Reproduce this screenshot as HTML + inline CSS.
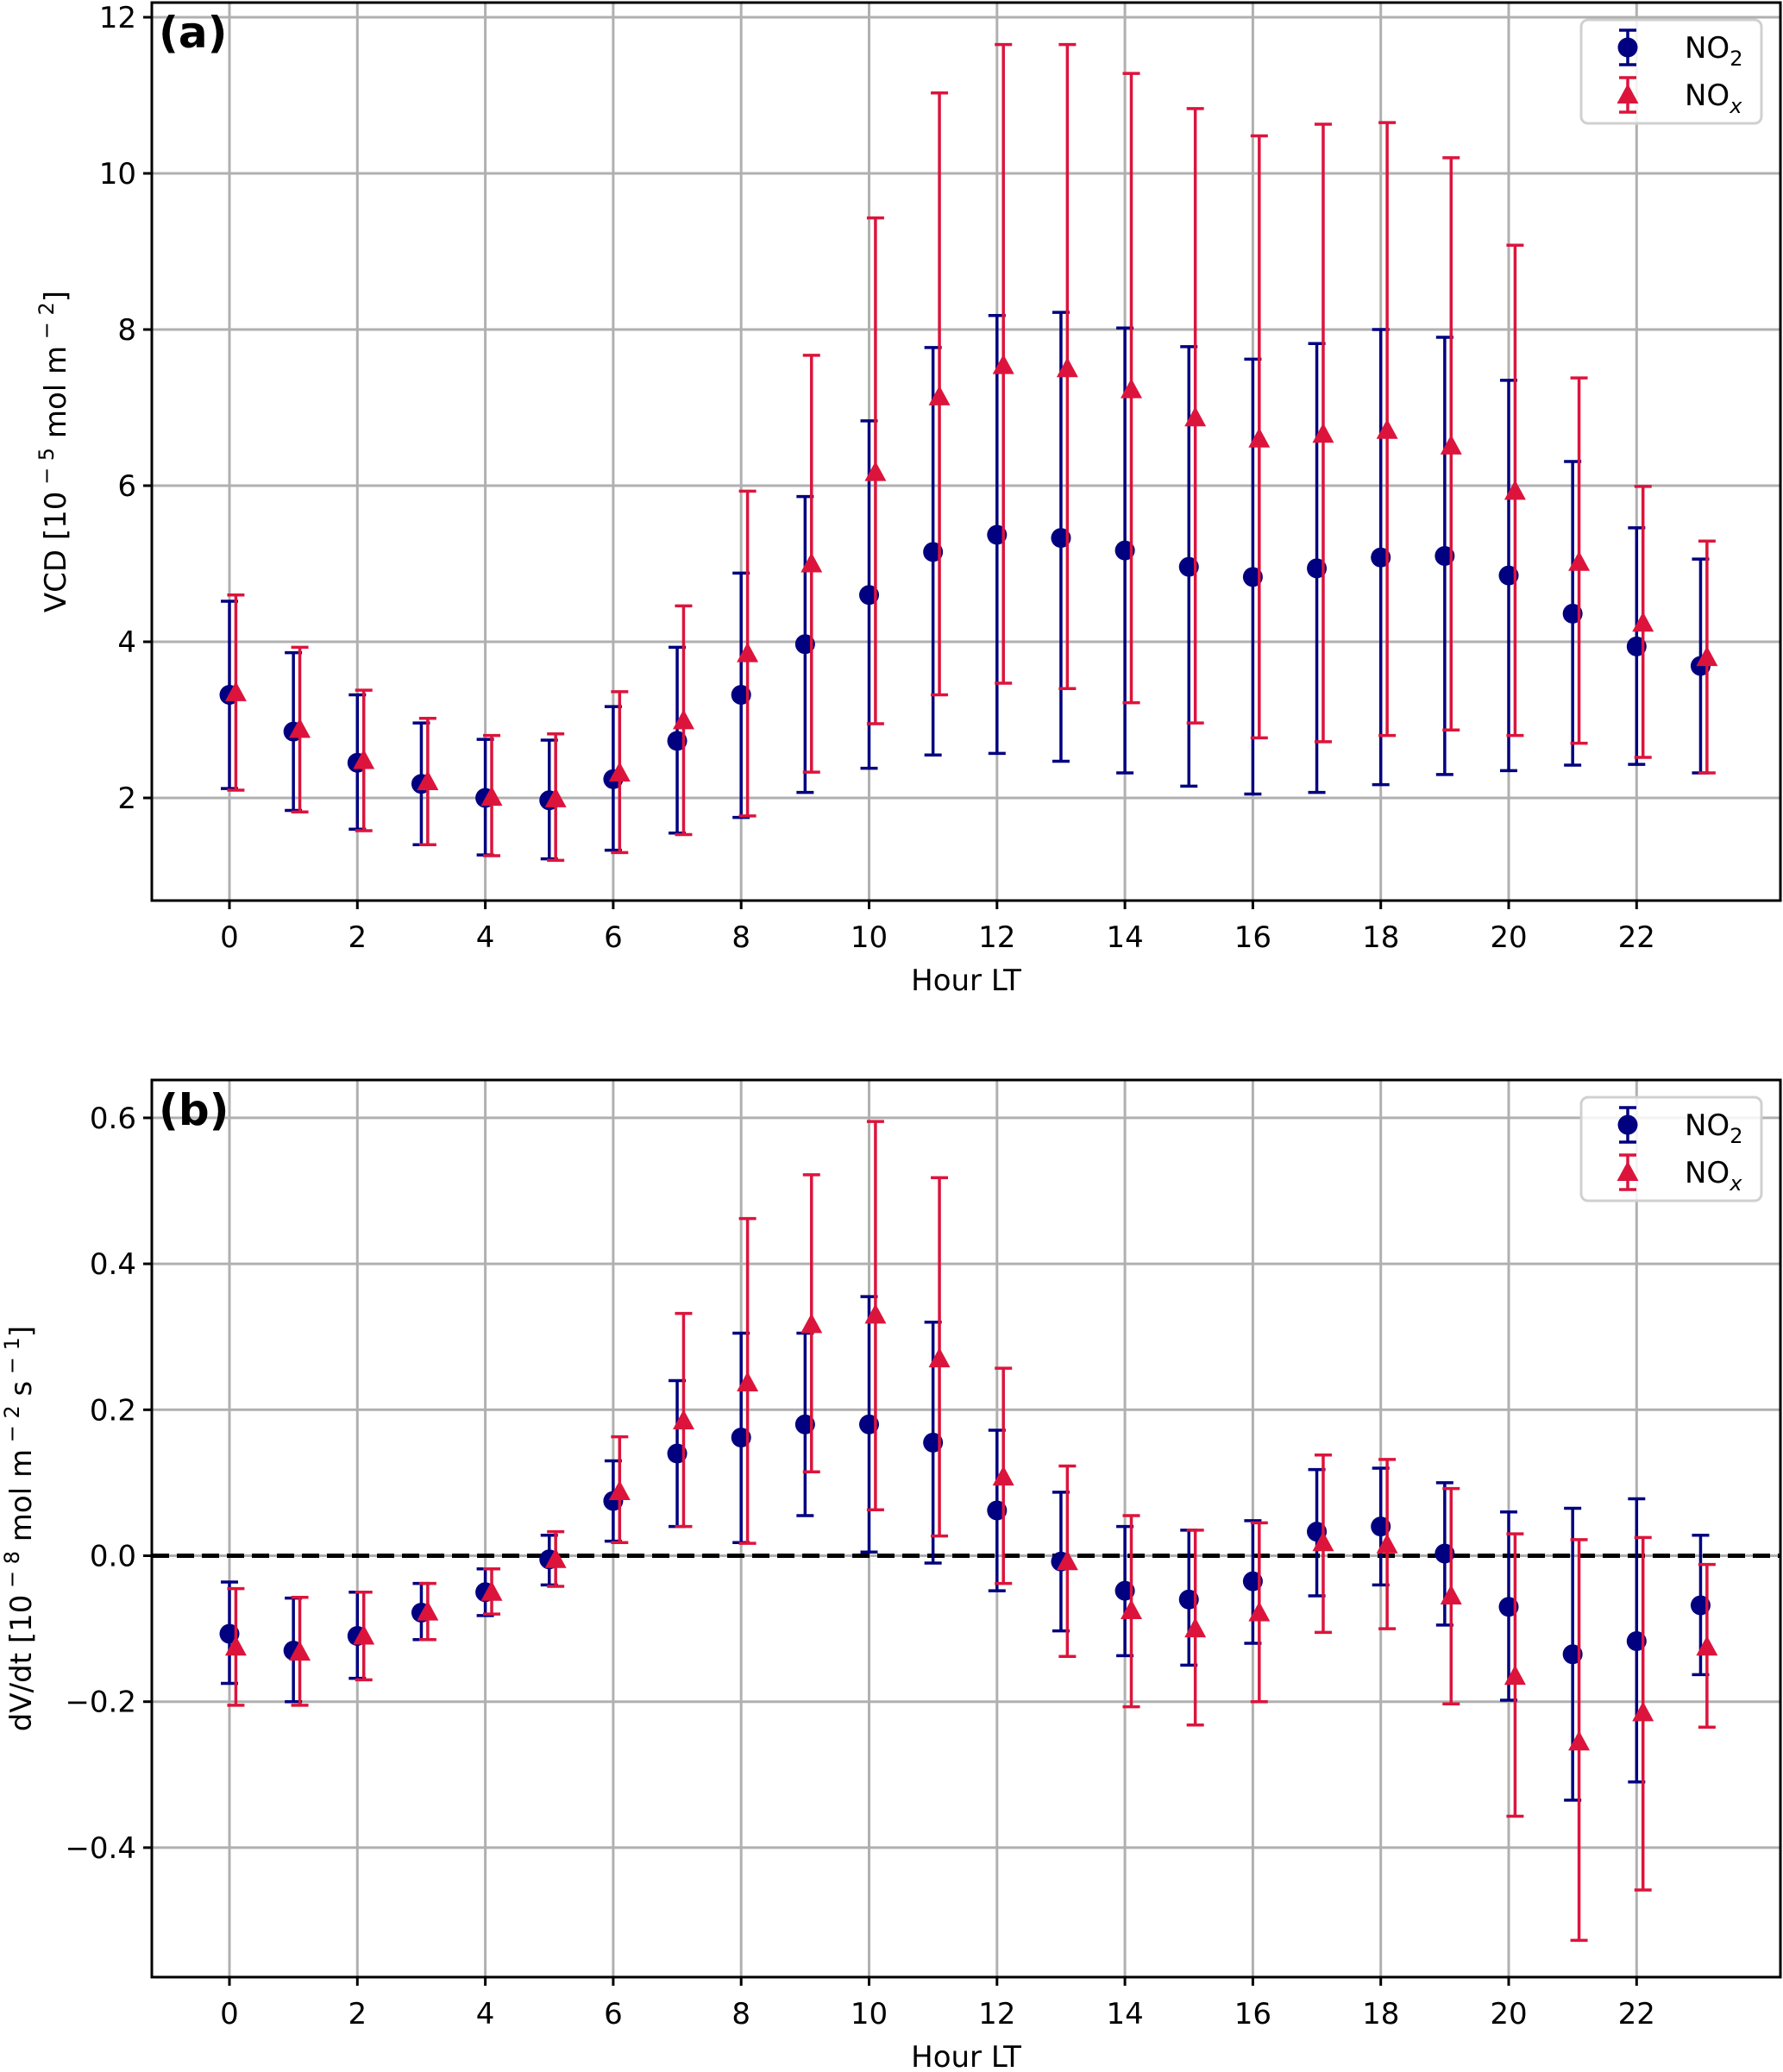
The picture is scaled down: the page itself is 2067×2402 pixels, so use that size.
<!DOCTYPE html>
<html><head><meta charset="utf-8"><style>body{margin:0;background:#fff}svg{display:block}text{font-family:"DejaVu Sans","Liberation Sans",sans-serif;fill:#000}</style></head>
<body>
<svg id="chart" width="2067" height="2402" viewBox="0 0 2067 2402" xmlns="http://www.w3.org/2000/svg"></svg>
<script>
const hours=[0,1,2,3,4,5,6,7,8,9,10,11,12,13,14,15,16,17,18,19,20,21,22,23];
const xTicks=[0,2,4,6,8,10,12,14,16,18,20,22];
const aTicks=[2,4,6,8,10,12];
const aTickLabels=["2","4","6","8","10","12"];
const bTicks=[-0.4,-0.2,0,0.2,0.4,0.6];
const bTickLabels=["\u22120.4","\u22120.2","0.0","0.2","0.4","0.6"];
const aNo2=[3.32,2.85,2.45,2.18,2.0,1.97,2.24,2.73,3.32,3.97,4.6,5.15,5.37,5.33,5.17,4.96,4.83,4.94,5.08,5.1,4.85,4.36,3.94,3.69];
const aNo2Hi=[4.52,3.86,3.32,2.96,2.75,2.74,3.17,3.93,4.88,5.86,6.83,7.77,8.18,8.22,8.02,7.78,7.62,7.82,8.0,7.9,7.35,6.31,5.46,5.06];
const aNo2Lo=[2.12,1.84,1.6,1.4,1.27,1.22,1.33,1.55,1.75,2.07,2.38,2.55,2.57,2.47,2.32,2.15,2.05,2.07,2.17,2.3,2.35,2.42,2.43,2.32];
const aNox=[3.35,2.88,2.48,2.21,2.01,1.99,2.32,2.99,3.85,5.0,6.17,7.14,7.54,7.5,7.23,6.87,6.6,6.66,6.71,6.51,5.93,5.02,4.24,3.8];
const aNoxHi=[4.6,3.93,3.38,3.02,2.8,2.82,3.36,4.46,5.93,7.67,9.43,11.03,11.65,11.65,11.28,10.83,10.48,10.63,10.65,10.2,9.08,7.38,5.99,5.29];
const aNoxLo=[2.1,1.82,1.58,1.4,1.26,1.2,1.3,1.53,1.77,2.33,2.95,3.32,3.47,3.4,3.22,2.96,2.77,2.72,2.8,2.87,2.8,2.7,2.52,2.32];
const bNo2=[-0.107,-0.13,-0.11,-0.078,-0.05,-0.005,0.075,0.14,0.162,0.18,0.18,0.155,0.062,-0.008,-0.048,-0.06,-0.035,0.033,0.04,0.003,-0.07,-0.135,-0.117,-0.068];
const bNo2Hi=[-0.036,-0.058,-0.05,-0.038,-0.018,0.028,0.13,0.24,0.305,0.305,0.355,0.32,0.172,0.087,0.04,0.035,0.048,0.118,0.12,0.1,0.06,0.065,0.078,0.028];
const bNo2Lo=[-0.175,-0.2,-0.168,-0.115,-0.082,-0.04,0.02,0.04,0.018,0.055,0.005,-0.01,-0.048,-0.103,-0.137,-0.15,-0.12,-0.055,-0.04,-0.095,-0.198,-0.335,-0.31,-0.163];
const bNox=[-0.125,-0.132,-0.11,-0.077,-0.05,-0.005,0.088,0.185,0.237,0.317,0.33,0.27,0.108,-0.008,-0.075,-0.1,-0.078,0.018,0.015,-0.055,-0.165,-0.255,-0.215,-0.125];
const bNoxHi=[-0.045,-0.057,-0.05,-0.038,-0.018,0.033,0.163,0.332,0.462,0.522,0.595,0.518,0.257,0.123,0.055,0.035,0.045,0.138,0.132,0.092,0.03,0.022,0.025,-0.012];
const bNoxLo=[-0.205,-0.205,-0.17,-0.115,-0.08,-0.042,0.018,0.04,0.017,0.115,0.063,0.027,-0.038,-0.138,-0.207,-0.232,-0.2,-0.105,-0.1,-0.203,-0.357,-0.527,-0.458,-0.235];

const NS="http://www.w3.org/2000/svg";
const svg=document.getElementById('chart');
function mk(tag,attrs,parent,name){const e=document.createElementNS(NS,tag);for(const k in attrs)e.setAttribute(k,attrs[k]);(parent||svg).appendChild(e);


return e;}
const L=176,R=2064;
const xs=h=>266+74.15*h;
const NAVY="#000080",RED="#dc143c";

function panel(p){
  const g=mk('g',{},svg,p.name);
  // grid
  xTicks.forEach(t=>{mk('line',{x1:xs(t),x2:xs(t),y1:p.top,y2:p.bot,stroke:'#b0b0b0','stroke-width':3},g,'x-grid-line');});
  p.ticks.forEach((t,i)=>{const y=p.ys(t);
    mk('line',{x1:L,x2:R,y1:y,y2:y,stroke:'#b0b0b0','stroke-width':3},g,'y-grid-line');
    mk('line',{x1:L-10,x2:L,y1:y,y2:y,stroke:'#000','stroke-width':3},g,'y-tick');
    const tx=mk('text',{x:L-18,y:y+12,'text-anchor':'end','font-size':34},g,'y-tick-label');tx.textContent=p.tickLabels[i];});
  xTicks.forEach(t=>{mk('line',{x1:xs(t),x2:xs(t),y1:p.bot,y2:p.bot+10,stroke:'#000','stroke-width':3},g,'x-tick');
    const tx=mk('text',{x:xs(t),y:p.bot+54,'text-anchor':'middle','font-size':34},g,'x-tick-label');tx.textContent=String(t);});
  if(p.zero){const y=p.ys(0);mk('line',{x1:L,x2:R,y1:y,y2:y,stroke:'#000','stroke-width':5,'stroke-dasharray':'20 9'},g,'zero-line');}
  // series
  function series(vals,lo,hi,off,color,shape,nm){
    const sg=mk('g',{},g,nm+'-series');
    hours.forEach((h,i)=>{const x=xs(h+off);const y1=p.ys(lo[i]),y2=p.ys(hi[i]);
      mk('line',{x1:x,x2:x,y1:y1,y2:y2,stroke:color,'stroke-width':3.5},sg,nm+'-errorbar');
      mk('line',{x1:x-10,x2:x+10,y1:y1,y2:y1,stroke:color,'stroke-width':3.5},sg,nm+'-cap-low');
      mk('line',{x1:x-10,x2:x+10,y1:y2,y2:y2,stroke:color,'stroke-width':3.5},sg,nm+'-cap-high');
      const y=p.ys(vals[i]);
      if(shape==='c')mk('circle',{cx:x,cy:y,r:11.5,fill:color},sg,nm+'-point');
      else mk('polygon',{points:`${x},${y-13} ${x+12.5},${y+10} ${x-12.5},${y+10}`,fill:color},sg,nm+'-point');});
  }
  series(p.no2,p.no2Lo,p.no2Hi,0,NAVY,'c','no2');
  series(p.nox,p.noxLo,p.noxHi,0.1,RED,'t','nox');
  mk('rect',{x:L,y:p.top,width:R-L,height:p.bot-p.top,fill:'none',stroke:'#000','stroke-width':3},g,'axes-frame');
  const lab=mk('text',{x:184,y:p.top+52,'font-size':50,'font-weight':'bold'},g,'panel-label');lab.textContent=p.label;
  const xl=mk('text',{x:1120,y:p.bot+104,'text-anchor':'middle','font-size':34},g,'x-axis-title');xl.textContent='Hour LT';
  const yl=mk('text',{x:0,y:0,'text-anchor':'middle','font-size':34,transform:`translate(${p.ylx},${(p.top+p.bot)/2}) rotate(-90)`},g,'y-axis-title');
  yl.innerHTML=p.ylab;
  // legend
  const lg=mk('g',{},g,'legend');
  const ly=p.top+20;
  mk('rect',{x:1833,y:ly,width:209,height:120,rx:8,fill:'#fff','fill-opacity':0.85,stroke:'#d0d0d0','stroke-width':3},lg,'legend-box');
  [[NAVY,'c','NO<tspan dy="9" font-size="24">2</tspan>',ly+32],[RED,'t','NO<tspan dy="9" font-size="24" font-style="italic">x</tspan>',ly+87]].forEach(([c,s,t,y])=>{
    const e=mk('g',{},lg,'legend-entry');
    mk('line',{x1:1887,x2:1887,y1:y-20,y2:y+20,stroke:c,'stroke-width':3.5},e,'legend-errorbar');
    mk('line',{x1:1877,x2:1897,y1:y-20,y2:y-20,stroke:c,'stroke-width':3.5},e,'legend-cap');
    mk('line',{x1:1877,x2:1897,y1:y+20,y2:y+20,stroke:c,'stroke-width':3.5},e,'legend-cap');
    if(s==='c')mk('circle',{cx:1887,cy:y,r:11.5,fill:c},e,'legend-marker');
    else mk('polygon',{points:`1887,${y-13} 1899.5,${y+10} 1874.5,${y+10}`,fill:c},e,'legend-marker');
    const tx=mk('text',{x:1953,y:y+12,'font-size':34},e,'legend-label');tx.innerHTML=t;});
}
panel({name:'panel-a',top:3,bot:1044,ys:v=>20+(12-v)*90.5,ticks:aTicks,tickLabels:aTickLabels,label:'(a)',
  no2:aNo2,no2Lo:aNo2Lo,no2Hi:aNo2Hi,nox:aNox,noxLo:aNoxLo,noxHi:aNoxHi,ylx:76,
  ylab:'VCD [10<tspan dy="-14" font-size="24"> \u2212 5</tspan><tspan dy="14"> mol m</tspan><tspan dy="-14" font-size="24"> \u2212 2</tspan><tspan dy="14">]</tspan>'});
panel({name:'panel-b',top:1252,bot:2292,ys:v=>1803.5-v*846,ticks:bTicks,tickLabels:bTickLabels,label:'(b)',zero:true,
  no2:bNo2,no2Lo:bNo2Lo,no2Hi:bNo2Hi,nox:bNox,noxLo:bNoxLo,noxHi:bNoxHi,ylx:36,
  ylab:'dV/dt [10<tspan dy="-14" font-size="24"> \u2212 8</tspan><tspan dy="14"> mol m</tspan><tspan dy="-14" font-size="24"> \u2212 2</tspan><tspan dy="14"> s</tspan><tspan dy="-14" font-size="24"> \u2212 1</tspan><tspan dy="14">]</tspan>'});
</script>
</body></html>
